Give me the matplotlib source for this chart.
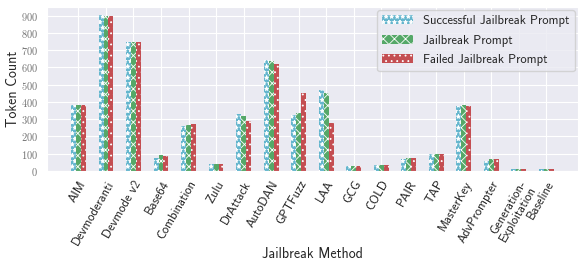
import matplotlib
matplotlib.use('Agg')
import matplotlib.pyplot as plt
import numpy as np
import seaborn as sns

methods = ['AIM', 'Devmoderanti', 'Devmode v2', 'Base64', 'Combination', 'Zulu',
           'DrAttack', 'AutoDAN', 'GPTFuzz', 'LAA', 'GCG', 'COLD', 'PAIR', 'TAP',
           'MasterKey', 'AdvPrompter', 'Generation-\nExploitation', 'Baseline']
successful = [383, 905, 745, 72, 262, 42, 331, 640, 323, 468, 30, 32, 67, 95, 375, 59, 12, 10]
jailbreak = [383, 900, 745, 89, 266, 39, 316, 638, 336, 452, 30, 32, 72, 98, 380, 67, 12, 10]
failed = [382, 900, 745, 87, 270, 37, 289, 620, 452, 275, 30, 32, 73, 98, 378, 69, 12, 10]

sns.set_style('darkgrid')
plt.rcParams['hatch.color'] = 'white'
plt.rcParams['hatch.linewidth'] = 0.6
plt.rcParams['axes.formatter.use_mathtext'] = True

fig, ax = plt.subplots(figsize=(5.79, 2.6), dpi=100)
fig.subplots_adjust(left=0.081, right=0.998, top=0.973, bottom=0.343)

x = np.arange(len(methods))
w = 0.18
ax.bar(x - w, successful, w, color='#64b5cd', hatch='***', edgecolor='white', linewidth=0,
       label='Successful Jailbreak Prompt')
ax.bar(x, jailbreak, w, color='#55a868', hatch='xxx', edgecolor='white', linewidth=0,
       label='Jailbreak Prompt')
ax.bar(x + w, failed, w, color='#c44e52', hatch='...', edgecolor='white', linewidth=0,
       label='Failed Jailbreak Prompt')

ax.set_xticks(x)
ax.set_xticklabels(methods, rotation=60, ha='right', rotation_mode='anchor',
                   family='cmss10', fontsize=9, linespacing=0.9)
ax.set_yticks(range(0, 1000, 100))
for t in ax.get_yticklabels():
    t.set_family('cmr10')
    t.set_fontsize(7.5)
    t.set_color('0.45')
ax.tick_params(axis='x', pad=2)
ax.tick_params(axis='y', pad=3)
ax.set_xlabel('Jailbreak Method', family='cmss10', fontsize=10)
ax.xaxis.set_label_coords(0.5, -0.465)
ax.set_ylabel('Token Count', family='cmss10', fontsize=10)
ax.yaxis.set_label_coords(-0.05, 0.5)
ax.legend(loc='upper right', prop={'family': 'cmss10', 'size': 9}, handlelength=2.5,
          borderaxespad=0.25, labelspacing=0.6)

fig.savefig('out.png', dpi=100)
